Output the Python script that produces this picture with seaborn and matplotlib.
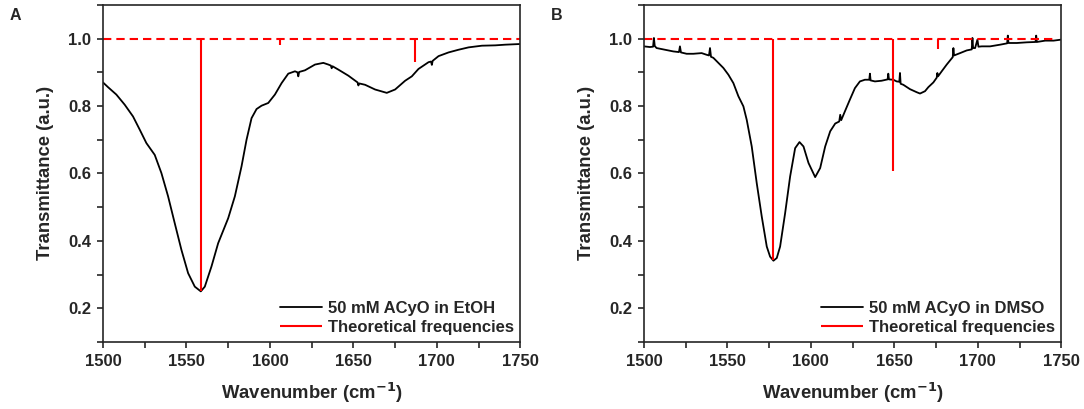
import numpy as np
import pandas as pd
import matplotlib
matplotlib.use('Agg')
import matplotlib.pyplot as plt
import seaborn as sns
from matplotlib.ticker import MultipleLocator

# spectrum A: 50 mM ACyO in EtOH
wn_etoh = [1500, 1503, 1508, 1513, 1518, 1522, 1526, 1531, 1535, 1539, 1543, 1547,
           1551, 1555, 1558.6, 1561, 1565, 1569, 1575, 1579, 1583, 1586, 1589, 1592,
           1595, 1599, 1603, 1607, 1611, 1615, 1616.5, 1617, 1617.5, 1621, 1627, 1632,
           1635, 1636.5, 1637, 1637.5, 1641, 1647, 1652.5, 1653, 1653.5, 1657, 1663,
           1670, 1675, 1681, 1685, 1689, 1695, 1696.5, 1697, 1697.5, 1701, 1707, 1713,
           1719, 1727, 1735, 1741, 1750]
tr_etoh = [0.870, 0.856, 0.834, 0.804, 0.769, 0.730, 0.690, 0.655, 0.601, 0.532, 0.452, 0.373,
           0.304, 0.264, 0.250, 0.264, 0.324, 0.393, 0.467, 0.532, 0.621, 0.700, 0.764, 0.791,
           0.801, 0.809, 0.834, 0.868, 0.896, 0.903, 0.900, 0.888, 0.901, 0.906, 0.923, 0.928,
           0.923, 0.920, 0.912, 0.918, 0.908, 0.890, 0.870, 0.861, 0.867, 0.863, 0.849,
           0.839, 0.849, 0.875, 0.888, 0.910, 0.930, 0.932, 0.922, 0.934, 0.948, 0.959, 0.967,
           0.974, 0.979, 0.980, 0.982, 0.984]

# spectrum B: 50 mM ACyO in DMSO
wn_dmso = [1500, 1503.6, 1505.5, 1506, 1506.5, 1507.6, 1512.6, 1517.6, 1521, 1521.6, 1522.2,
           1525.6, 1529.6, 1534.6, 1537.6, 1539, 1539.6, 1540.2, 1541.6, 1544.6, 1547.6,
           1550.6, 1553.6, 1556.6, 1559.6, 1561.6, 1564.6, 1567.6, 1570.6, 1573.6, 1575.6,
           1577.6, 1579.6, 1581.6, 1584.6, 1587.6, 1590.6, 1593.2, 1595.6, 1598.6, 1602.6,
           1605.6, 1608.6, 1611.6, 1614.6, 1617, 1617.6, 1618.2, 1620.4, 1623.4, 1626.4,
           1629.4, 1632.4, 1635, 1635.4, 1635.8, 1638.4, 1642.4, 1646, 1646.4, 1646.8,
           1649.4, 1651.4, 1653, 1653.4, 1653.8, 1655.4, 1659.4, 1663.4, 1665.4, 1668.4,
           1670.4, 1673.4, 1675.4, 1675.8, 1676.2, 1678.4, 1681.4, 1685, 1685.4, 1685.8,
           1689.4, 1693.4, 1696.4, 1696.8, 1697.2, 1698.4, 1699.8, 1700.4, 1702.4, 1707.4,
           1713.4, 1717.6, 1718, 1718.4, 1723.4, 1729.4, 1734.6, 1735, 1735.4, 1740.4,
           1745.4, 1750]
tr_dmso = [0.977, 0.975, 0.976, 1.002, 0.978, 0.972, 0.967, 0.962, 0.960, 0.977, 0.959,
           0.955, 0.955, 0.957, 0.952, 0.950, 0.972, 0.946, 0.943, 0.928, 0.913,
           0.893, 0.868, 0.829, 0.799, 0.759, 0.680, 0.571, 0.472, 0.383, 0.353,
           0.341, 0.349, 0.383, 0.482, 0.591, 0.675, 0.693, 0.680, 0.631, 0.589,
           0.616, 0.680, 0.725, 0.748, 0.754, 0.774, 0.758, 0.784, 0.819, 0.853,
           0.873, 0.878, 0.878, 0.896, 0.876, 0.873, 0.875, 0.879, 0.896, 0.879,
           0.878, 0.873, 0.872, 0.898, 0.866, 0.863, 0.850, 0.841, 0.837, 0.844,
           0.856, 0.870, 0.884, 0.898, 0.888, 0.903, 0.923, 0.945, 0.972, 0.950,
           0.957, 0.965, 0.968, 1.002, 0.972, 0.972, 0.997, 0.976, 0.977, 0.977,
           0.982, 0.986, 1.009, 0.987, 0.987, 0.989, 0.990, 1.009, 0.990, 0.994,
           0.994, 0.997]

# theoretical frequencies (stick positions and lower ends)
theo_etoh_wn = [1559, 1606, 1687]
theo_etoh_tr = [0.25, 0.982, 0.931]
theo_dmso_wn = [1577.6, 1649, 1676]
theo_dmso_tr = [0.344, 0.606, 0.969]

panels = [
    ('A', wn_etoh, tr_etoh, theo_etoh_wn, theo_etoh_tr, '50 mM ACyO in EtOH', 1750),
    ('B', wn_dmso, tr_dmso, theo_dmso_wn, theo_dmso_tr, '50 mM ACyO in DMSO', 1746),
]

sns.set_style('ticks')
plt.rcParams['font.family'] = ['Liberation Sans', 'DejaVu Sans']
plt.rcParams['font.weight'] = 'bold'
plt.rcParams['axes.labelweight'] = 'bold'
plt.rcParams['mathtext.default'] = 'bf'

fig = plt.figure(figsize=(10.84, 4.09), dpi=100)
lefts = [0.095, 0.594]

for (letter, wn, tr, twn, ttr, lab, dash_end), left in zip(panels, lefts):
    ax = fig.add_axes([left, 0.164, 0.385, 0.824])
    df = pd.DataFrame({'wn': wn, 'tr': tr})
    sns.lineplot(data=df, x='wn', y='tr', ax=ax, color='black', lw=1.3,
                 sort=False, label=lab)
    ax.hlines(1.0, 1500, dash_end, colors='#ff0000', linestyles=(0, (4, 2.4)), lw=1.5)
    ax.vlines(twn, ttr, 1.0, colors='#ff0000', lw=1.5, label='Theoretical frequencies')

    ax.set_xlim(1500, 1750)
    ax.set_ylim(0.1, 1.1)
    ax.xaxis.set_major_locator(MultipleLocator(50))
    ax.xaxis.set_minor_locator(MultipleLocator(25))
    ax.yaxis.set_major_locator(MultipleLocator(0.2))
    ax.yaxis.set_minor_locator(MultipleLocator(0.1))
    ax.set_yticks([0.2, 0.4, 0.6, 0.8, 1.0])
    ax.tick_params(which='both', direction='out', width=1.2, length=4.5,
                   labelsize=12, pad=4)
    for lbl in ax.get_xticklabels() + ax.get_yticklabels():
        lbl.set_fontweight('bold')
    for sp in ax.spines.values():
        sp.set_linewidth(1.2)
    ax.set_xlabel('Wavenumber (cm$^{-1}$)', fontsize=13.3, fontweight='bold', labelpad=9)
    ax.set_ylabel('Transmittance (a.u.)', fontsize=13.3, fontweight='bold', labelpad=10)
    leg = ax.legend(loc='lower right', frameon=False, fontsize=12, handlelength=2.5,
                    borderaxespad=0.0, handletextpad=0.35, labelspacing=0.25)
    for t in leg.get_texts():
        t.set_fontweight('bold')
    fig.text(left - 0.086, 0.952, letter, fontsize=11.5, fontweight='bold')

fig.savefig('out.png', dpi=100)
